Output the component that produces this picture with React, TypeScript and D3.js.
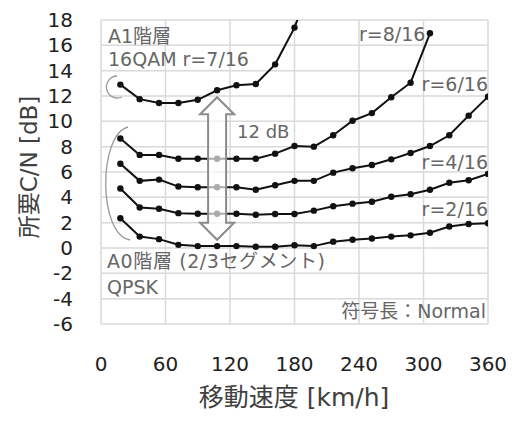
import React from "react";
import * as d3 from "d3";

const speeds = [18, 36, 54, 72, 90, 108, 126, 144, 162, 180, 198, 216, 234, 252, 270, 288, 306, 324, 342, 360];
const a1r7 = [12.9, 11.75, 11.45, 11.45, 11.7, 12.45, 12.85, 12.95, 14.5, 17.4, 21.5];
const a0r8 = [8.65, 7.35, 7.35, 7.05, 7.05, 7.05, 7.05, 7.05, 7.45, 8.05, 8.0, 8.9, 10.05, 10.65, 11.9, 13.05, 16.95];
const a0r6 = [6.65, 5.3, 5.4, 4.85, 4.8, 4.8, 4.8, 4.6, 4.95, 5.3, 5.3, 5.95, 6.3, 6.55, 7.0, 7.5, 8.05, 8.9, 10.45, 11.95];
const a0r4 = [4.7, 3.2, 3.1, 2.75, 2.7, 2.7, 2.7, 2.62, 2.68, 2.68, 2.95, 3.3, 3.5, 3.65, 4.05, 4.25, 4.6, 5.15, 5.35, 5.85];
const a0r2 = [2.35, 0.9, 0.7, 0.25, 0.15, 0.15, 0.15, 0.1, 0.1, 0.22, 0.15, 0.5, 0.65, 0.75, 0.9, 1.0, 1.2, 1.7, 1.9, 1.95];
const xTicks = [0, 60, 120, 180, 240, 300, 360];
const yTicks = [-6, -4, -2, 0, 2, 4, 6, 8, 10, 12, 14, 16, 18];
const arrowSpeed = 108;
const arrowTop = 11.9;
const arrowBottom = 0.65;

const FONT = "'DejaVu Sans', 'Noto Sans CJK JP', sans-serif";

export default function App() {
  const x = d3.scaleLinear().domain([0, 360]).range([101, 488]);
  const y = d3.scaleLinear().domain([-6, 18]).range([324, 20]);
  const series = [a1r7, a0r8, a0r6, a0r4, a0r2];
  const line = d3
    .line<number>()
    .x((_, i) => x(speeds[i]))
    .y((d) => y(d));

  const ax = x(arrowSpeed);
  const yt = y(arrowTop);
  const yb = y(arrowBottom);
  const hh = 17, hw = 17, sw = 9;
  const arrowPath = [
    [ax, yt], [ax + hw, yt + hh], [ax + sw, yt + hh], [ax + sw, yb - hh], [ax + hw, yb - hh],
    [ax, yb], [ax - hw, yb - hh], [ax - sw, yb - hh], [ax - sw, yt + hh], [ax - hw, yt + hh],
  ].map((p) => p.join(",")).join(" ");

  const grid = "#d9d9d9";
  const ann = "#666";

  return (
    <svg width={513} height={427} style={{ position: "absolute", left: 0, top: 0, background: "#fff" }} fontFamily={FONT}>
      <defs>
        <clipPath id="plot">
          <rect x={101} y={20} width={387} height={304} />
        </clipPath>
      </defs>
      {xTicks.map((t) => (
        <line key={"gx" + t} x1={x(t)} x2={x(t)} y1={20} y2={324} stroke={grid} strokeWidth={1.5} />
      ))}
      {yTicks.map((t) => (
        <line key={"gy" + t} x1={101} x2={488} y1={y(t)} y2={y(t)} stroke={grid} strokeWidth={1.5} />
      ))}
      {yTicks.map((t) => (
        <text key={"ty" + t} x={73} y={y(t) + 7} fontSize={20} textAnchor="end" fill="#222">{t}</text>
      ))}
      {xTicks.map((t) => (
        <text key={"tx" + t} x={x(t)} y={371} fontSize={20} textAnchor="middle" fill="#222">{t}</text>
      ))}
      <text x={294} y={406} fontSize={25} textAnchor="middle" fill="#404040">移動速度 [km/h]</text>
      <text transform="translate(37,167) rotate(-90)" fontSize={23} textAnchor="middle" fill="#404040">所要C/N [dB]</text>

      <g clipPath="url(#plot)">
        {series.map((s, k) => (
          <g key={"s" + k}>
            <path d={line(s) || ""} fill="none" stroke="#111" strokeWidth={2} />
            {s.map((v, i) => (
              <circle key={i} cx={x(speeds[i])} cy={y(v)} r={3.2} fill="#111" />
            ))}
          </g>
        ))}
      </g>

      <polygon points={arrowPath} fill="#fff" fillOpacity={0.65} stroke="#8a8a8a" strokeWidth={2} strokeLinejoin="miter" />
      <text x={237} y={138} fontSize={18} fill={ann}>12 dB</text>

      <path d="M117,76 A11,11 0 1,0 122,97" fill="none" stroke="#999" strokeWidth={1.3} />
      <path d="M128,127 C98,135 98,235 130,240" fill="none" stroke="#999" strokeWidth={1.3} />

      <text x={108} y={43} fontSize={19} fill={ann}>A1階層</text>
      <text x={108} y={66} fontSize={19} fill={ann}>16QAM r=7/16</text>
      <text x={359} y={41} fontSize={19} fill={ann}>r=8/16</text>
      <text x={488} y={91} fontSize={19} fill={ann} textAnchor="end">r=6/16</text>
      <text x={488} y={169} fontSize={19} fill={ann} textAnchor="end">r=4/16</text>
      <text x={488} y={216} fontSize={19} fill={ann} textAnchor="end">r=2/16</text>
      <text x={107} y={268} fontSize={19} letterSpacing={0.6} fill={ann}>A0階層 (2/3セグメント)</text>
      <text x={107} y={294} fontSize={19} fill={ann}>QPSK</text>
      <text x={486} y={318} fontSize={19} fill={ann} textAnchor="end">符号長：Normal</text>
    </svg>
  );
}
